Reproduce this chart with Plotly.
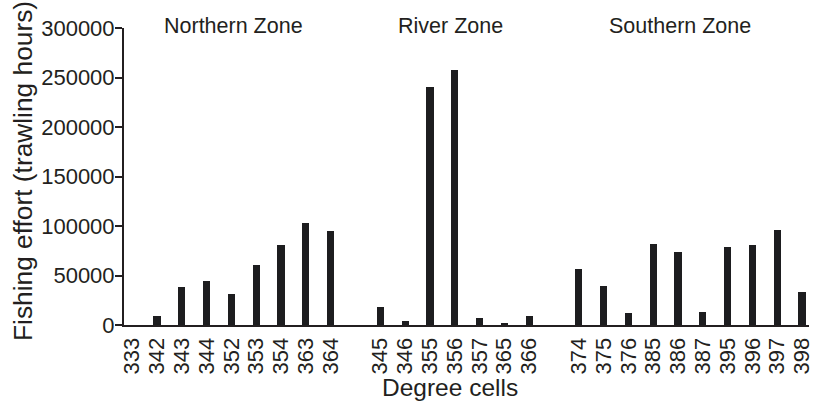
import plotly.graph_objects as go

northern_cells = ["333", "342", "343", "344", "352", "353", "354", "363", "364"]
northern_effort = [0, 9000, 38000, 44000, 31300, 60200, 81000, 103000, 95000]

river_cells = ["345", "346", "355", "356", "357", "365", "366"]
river_effort = [18200, 4300, 240000, 257600, 6700, 2000, 9100]

southern_cells = ["374", "375", "376", "385", "386", "387", "395", "396", "397", "398"]
southern_effort = [56600, 39000, 12400, 82100, 74000, 13400, 78800, 81100, 96300, 33300]

zone_names = ["Northern Zone", "River Zone", "Southern Zone"]
y_ticks = [0, 50000, 100000, 150000, 200000, 250000, 300000]

groups = [(northern_cells, northern_effort), (river_cells, river_effort), (southern_cells, southern_effort)]

xs, labels, vals, centers = [], [], [], []
pos = 0
for cells, eff in groups:
    start = pos
    for c, v in zip(cells, eff):
        xs.append(pos)
        labels.append(c)
        vals.append(v)
        pos += 1
    centers.append((start + pos - 1) / 2)
    pos += 1  # gap slot

TXT = "#231f20"
FONT = "Liberation Sans, Arial, Helvetica, sans-serif"

fig = go.Figure()
fig.add_trace(go.Bar(x=xs, y=vals, width=0.29, marker=dict(color="#1d1d1f", line=dict(width=0)),
                     showlegend=False))

# plot area: x 124..809, y 28..325 (page pixels)
label_x = [centers[0] + 0.07, centers[1] - 0.16, centers[2] - 0.4]
for name, cx in zip(zone_names, label_x):
    fig.add_annotation(x=cx, xref="x", y=1.0067, yref="paper", yanchor="middle",
                       text=name, showarrow=False, font=dict(size=21.5, color=TXT, family=FONT))

fig.add_annotation(x=(23 - 124) / 685, xref="paper", y=(325 - 171) / 297, yref="paper",
                   xanchor="center", yanchor="middle",
                   text="Fishing effort (trawling hours)", textangle=-90, showarrow=False,
                   font=dict(size=26.3, color=TXT, family=FONT))
fig.add_annotation(x=(450 - 124) / 685, xref="paper", y=(325 - 387) / 297, yref="paper",
                   xanchor="center", yanchor="middle",
                   text="Degree cells", showarrow=False,
                   font=dict(size=24.5, color=TXT, family=FONT))

fig.update_layout(
    width=815, height=407,
    margin=dict(l=124, r=6, t=28, b=82, autoexpand=False),
    plot_bgcolor="white", paper_bgcolor="white",
    font=dict(family=FONT, size=22, color=TXT),
    bargap=0,
)
fig.update_xaxes(
    range=[-0.33, xs[-1] + 0.28], automargin=False,
    tickmode="array", tickvals=xs, ticktext=labels, tickangle=-90, ticklabelstandoff=2,
    ticklabeloverflow="allow",
    showline=True, linecolor="#231f20", linewidth=2, ticks="", showgrid=False, zeroline=False,
    tickfont=dict(size=22, color=TXT, family=FONT),
)
fig.update_yaxes(
    range=[0, 300000], automargin=False, tickmode="array", tickvals=y_ticks, ticktext=[str(t) for t in y_ticks],
    showline=True, linecolor="#231f20", linewidth=2, ticks="outside", ticklen=7, tickwidth=2,
    tickcolor="#231f20", showgrid=False, zeroline=False, ticklabelstandoff=-4,
    tickfont=dict(size=22, color=TXT, family=FONT),
)

fig.write_html("out.html", config={"displayModeBar": False},
               post_script="document.body.style.margin='0';document.body.style.overflow='hidden';")
